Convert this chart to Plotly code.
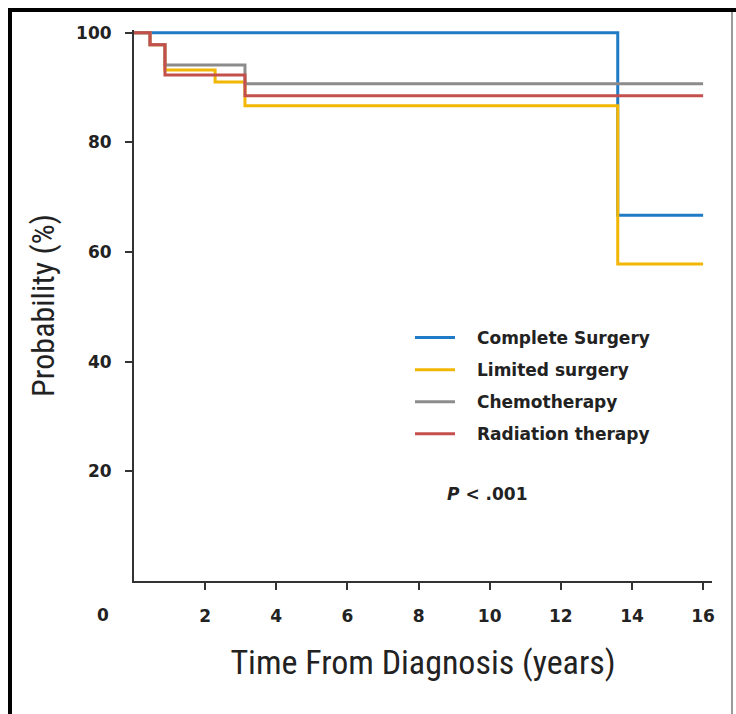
import plotly.graph_objects as go

# Kaplan-Meier style survival estimates by treatment group
years_complete = [0, 13.6, 16]
prob_complete = [100, 66.7, 66.7]

years_limited = [0, 0.45, 0.87, 2.28, 3.12, 13.6, 16]
prob_limited = [100, 97.8, 93.2, 91.0, 86.7, 57.8, 57.8]

years_chemo = [0, 0.45, 0.87, 3.12, 16]
prob_chemo = [100, 97.8, 94.1, 90.7, 90.7]

years_radiation = [0, 0.45, 0.87, 3.12, 16]
prob_radiation = [100, 97.8, 92.3, 88.5, 88.5]

group_names = ["Complete Surgery", "Limited surgery", "Chemotherapy", "Radiation therapy"]
group_colors = ["#1f7bc6", "#f2b705", "#8c8c8c", "#c4504d"]

x_ticks = [2, 4, 6, 8, 10, 12, 14, 16]
y_ticks = [20, 40, 60, 80, 100]

W, H = 736, 714
L, R, T, B = 134, 24, 30, 133
PW, PH = W - L - R, H - T - B

TICK_FONT = dict(family="DejaVu Sans", size=17, color="#222222", weight="bold")
TITLE_FAMILY = "Liberation Sans Narrow, Arial Narrow, Roboto Condensed, sans-serif"

fig = go.Figure()
series = [
    (years_complete, prob_complete),
    (years_limited, prob_limited),
    (years_chemo, prob_chemo),
    (years_radiation, prob_radiation),
]
for (xs, ys), name, color in zip(series, group_names, group_colors):
    fig.add_trace(go.Scatter(
        x=xs, y=ys, mode="lines", name="\u2003" + name,
        line=dict(color=color, width=3, shape="hv"),
        legendgroup=name,
    ))


def px_x(p):
    return (p - L) / PW


def px_y(p):
    return (H - B - p) / PH


# page frame
frame = [
    dict(x0=px_x(8), x1=px_x(12), y0=px_y(714), y1=px_y(8), color="#000000"),
    dict(x0=px_x(8), x1=px_x(736), y0=px_y(12), y1=px_y(8), color="#000000"),
    dict(x0=px_x(731), x1=px_x(733), y0=px_y(714), y1=px_y(12), color="#9a9a9a"),
]
shapes = [
    dict(type="rect", xref="paper", yref="paper", x0=f["x0"], x1=f["x1"],
         y0=f["y0"], y1=f["y1"], fillcolor=f["color"], line=dict(width=0))
    for f in frame
]

fig.update_layout(
    width=W, height=H,
    margin=dict(l=L, r=R, t=T, b=B),
    paper_bgcolor="white", plot_bgcolor="white",
    shapes=shapes,
    showlegend=True,
    legend=dict(
        x=px_x(410), y=px_y(320), xanchor="left", yanchor="top",
        bgcolor="rgba(0,0,0,0)", borderwidth=0,
        font=dict(family="DejaVu Sans", size=17, color="#222222", weight="bold"),
        itemwidth=40, tracegroupgap=7,
    ),
    xaxis=dict(
        range=[0, 16.25], tickvals=x_ticks, ticktext=[str(v) for v in x_ticks],
        showgrid=False, zeroline=False,
        showline=True, linecolor="#333333", linewidth=2,
        ticks="outside", ticklen=7, tickwidth=2, tickcolor="#333333",
        tickfont=TICK_FONT, ticklabelstandoff=12,
        title=dict(text="Time From Diagnosis (years)",
                   font=dict(family=TITLE_FAMILY, size=34, color="#222222"),
                   standoff=25),
    ),
    yaxis=dict(
        range=[0, 100.5], tickvals=y_ticks, ticktext=[str(v) for v in y_ticks],
        showgrid=False, zeroline=False,
        showline=True, linecolor="#333333", linewidth=2,
        ticks="outside", ticklen=7, tickwidth=2, tickcolor="#333333",
        tickfont=TICK_FONT, ticklabelstandoff=10,
        title=dict(text="Probability (%)",
                   font=dict(family=TITLE_FAMILY, size=32, color="#222222"),
                   standoff=12),
    ),
    annotations=[
        dict(text="0", xref="paper", yref="paper", x=px_x(103), y=px_y(615),
             xanchor="center", yanchor="middle", showarrow=False, font=TICK_FONT),
        dict(text="<i>P</i> < .001", xref="paper", yref="paper", x=px_x(488), y=px_y(494),
             xanchor="center", yanchor="middle", showarrow=False,
             font=dict(family="DejaVu Sans", size=17, color="#222222", weight="bold")),
    ],
)

fig.write_html("out.html")
